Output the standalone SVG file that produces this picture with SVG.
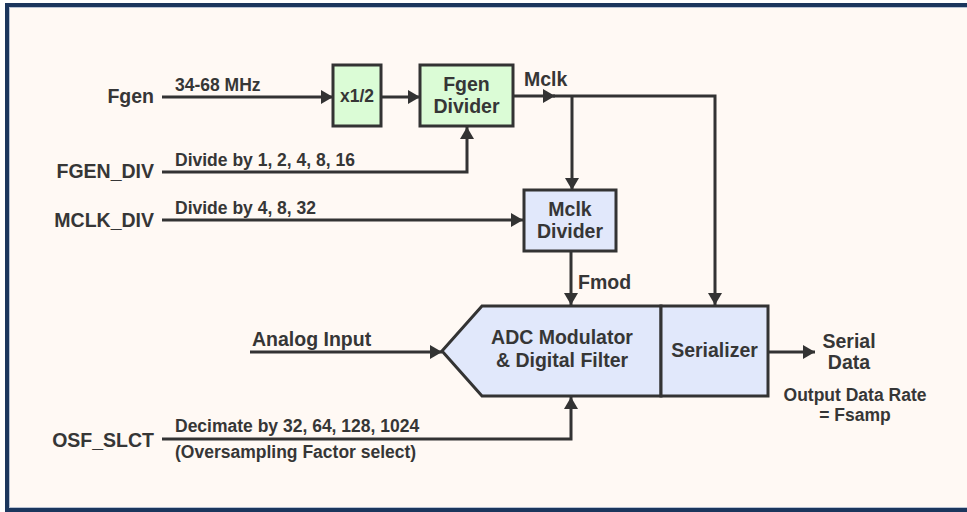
<svg xmlns="http://www.w3.org/2000/svg" width="967" height="512" viewBox="0 0 967 512">
<style>
.lbl{font-family:"Liberation Sans",Arial,sans-serif;font-weight:bold;font-size:19.5px;fill:#363636}
.sm{font-family:"Liberation Sans",Arial,sans-serif;font-weight:bold;font-size:17.5px;fill:#363636}
.mid{text-anchor:middle}
.end{text-anchor:end}
.box{stroke:#333;stroke-width:3}
.g{fill:#dbfcd6}
.b{fill:#e1e8fb}
.w{fill:none;stroke:#333;stroke-width:3}
</style>
<defs>
<marker id="ah" markerUnits="userSpaceOnUse" markerWidth="13" markerHeight="14" refX="12" refY="7" orient="auto">
<path d="M0,0 L12,7 L0,14 z" fill="#333"/>
</marker>
</defs>
<rect x="0" y="0" width="967" height="512" fill="#ffffff"/>
<rect x="7" y="5" width="980" height="505" fill="#fff9f4" stroke="#1b365d" stroke-width="4"/>
<rect x="9.5" y="7.5" width="980" height="500" fill="none" stroke="#b9c3d3" stroke-width="1"/>

<g id="connectors">
<path class="w" d="M162,97 H333" marker-end="url(#ah)"/>
<path class="w" d="M381,97 H420" marker-end="url(#ah)"/>
<path class="w" d="M513,96 H555" marker-end="url(#ah)"/>
<path class="w" d="M553,96 H715 V305" marker-end="url(#ah)"/>
<path class="w" d="M572,96 V190" marker-end="url(#ah)"/>
<path class="w" d="M162,172 H467 V127" marker-end="url(#ah)"/>
<path class="w" d="M162,220 H523" marker-end="url(#ah)"/>
<path class="w" d="M571,252 V305" marker-end="url(#ah)"/>
<path class="w" d="M250,352 H442" marker-end="url(#ah)"/>
<path class="w" d="M162,439 H571 V397" marker-end="url(#ah)"/>
<path class="w" d="M768,352 H815" marker-end="url(#ah)"/>
</g>

<g id="fgen">
<text class="lbl end" x="154" y="103">Fgen</text>
<text class="sm" x="175" y="91">34-68 MHz</text>
</g>
<g id="fgen_div">
<text class="lbl end" x="154" y="178">FGEN_DIV</text>
<text class="sm" x="175" y="166">Divide by 1, 2, 4, 8, 16</text>
</g>
<g id="mclk_div">
<text class="lbl end" x="154" y="227">MCLK_DIV</text>
<text class="sm" x="175" y="214">Divide by 4, 8, 32</text>
</g>
<g id="osf_slct">
<text class="lbl end" x="154" y="447">OSF_SLCT</text>
<text class="sm" x="175" y="432">Decimate by 32, 64, 128, 1024</text>
<text class="sm" x="175" y="458">(Oversampling Factor select)</text>
</g>
<g id="analog">
<text class="lbl" x="252" y="346">Analog Input</text>
</g>

<g id="half">
<rect class="box g" x="333" y="65" width="48" height="61"/>
<text class="sm mid" x="357" y="102">x1/2</text>
</g>
<g id="fgendivider">
<rect class="box g" x="420" y="65" width="93" height="61"/>
<text class="lbl mid" x="466.5" y="91">Fgen</text>
<text class="lbl mid" x="466.5" y="113">Divider</text>
</g>
<g id="mclk">
<text class="lbl" x="524" y="86">Mclk</text>
</g>
<g id="mclkdivider">
<rect class="box b" x="524" y="190" width="92" height="61"/>
<text class="lbl mid" x="570" y="216">Mclk</text>
<text class="lbl mid" x="570" y="238">Divider</text>
</g>
<g id="fmod">
<text class="lbl" x="578" y="289">Fmod</text>
</g>
<g id="adc">
<path class="box b" d="M482,306 H661 V396 H482 L442,351 Z"/>
<text class="lbl mid" x="562" y="344">ADC Modulator</text>
<text class="lbl mid" x="562" y="367">&amp; Digital Filter</text>
</g>
<g id="serializer">
<rect class="box b" x="661" y="306" width="107" height="90"/>
<text class="lbl mid" x="714.5" y="357">Serializer</text>
</g>
<g id="serialdata">
<text class="lbl mid" x="849" y="348">Serial</text>
<text class="lbl mid" x="849" y="369">Data</text>
<text class="sm mid" x="855" y="401">Output Data Rate</text>
<text class="sm mid" x="855" y="421">= Fsamp</text>
</g>
</svg>
